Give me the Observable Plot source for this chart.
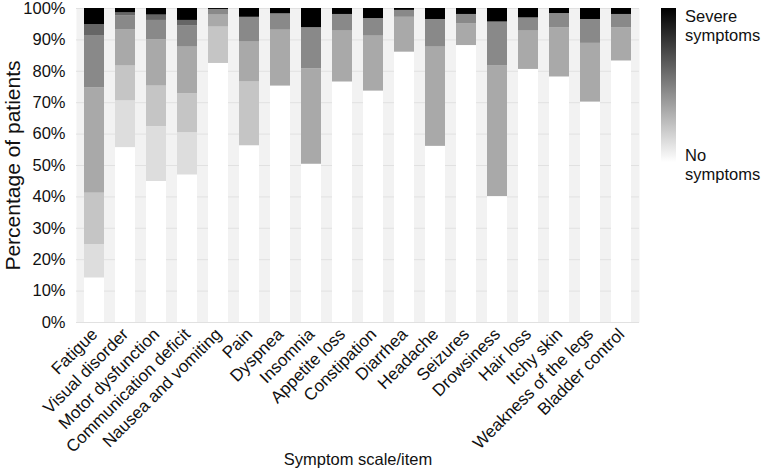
<!DOCTYPE html>
<html>
<head>
<meta charset="utf-8">
<script src="https://cdn.jsdelivr.net/npm/d3@7"></script>
<script src="https://cdn.jsdelivr.net/npm/@observablehq/plot@0.6"></script>
<style>
  html, body { margin: 0; padding: 0; background: #fff; }
  #chart { width: 761px; height: 473px; }
</style>
</head>
<body>
<div id="chart"></div>
<script>
// Categories (x)
const symptoms = [
  "Fatigue", "Visual disorder", "Motor dysfunction", "Communication deficit",
  "Nausea and vomiting", "Pain", "Dyspnea", "Insomnia", "Appetite loss",
  "Constipation", "Diarrhea", "Headache", "Seizures", "Drowsiness",
  "Hair loss", "Itchy skin", "Weakness of the legs", "Bladder control"
];

// Severity levels, from no symptoms (0) to severe symptoms (6)
const levels = ["0", "1", "2", "3", "4", "5", "6"];
const shades = ["#ffffff", "#dddddd", "#c5c5c5", "#a9a9a9", "#898989", "#666666", "#000000"];

// Percentage of patients in each severity level, per symptom
const level0 = [14.2, 55.7, 44.9, 47.0, 82.5, 56.3, 75.3, 50.4, 76.6, 73.7, 86.1, 56.1, 88.2, 40.1, 80.6, 78.2, 70.2, 83.3];
const level1 = [10.6, 14.9, 17.5, 13.5, 0, 0, 0, 0, 0, 0, 0, 0, 0, 0, 0, 0, 0, 0];
const level2 = [16.4, 11.1, 12.9, 12.4, 11.6, 20.3, 0, 0, 0, 0, 0, 0, 0, 0, 0, 0, 0, 0];
const level3 = [33.6, 11.6, 14.8, 14.8, 3.8, 12.7, 17.8, 30.4, 16.2, 17.5, 11.1, 31.6, 7.0, 41.6, 12.2, 15.7, 18.7, 10.6];
const level4 = [16.4, 4.3, 6.1, 6.7, 1.8, 7.9, 5.2, 13.1, 5.3, 5.6, 2.2, 8.8, 2.9, 14.0, 4.2, 4.5, 7.6, 4.2];
const level5 = [3.7, 1.0, 1.7, 1.8, 0, 0, 0, 0, 0, 0, 0, 0, 0, 0, 0, 0, 0, 0];
const level6 = [5.1, 1.4, 2.1, 3.8, 0.3, 2.8, 1.7, 6.1, 1.9, 3.2, 0.6, 3.5, 1.9, 4.3, 3.0, 1.6, 3.5, 1.9];

// Tick labels and texts
const yTicks = [0, 10, 20, 30, 40, 50, 60, 70, 80, 90, 100];
const xTitle = "Symptom scale/item";
const yTitle = "Percentage of patients";
const legendTop = ["Severe", "symptoms"];
const legendBottom = ["No", "symptoms"];

const series = [level0, level1, level2, level3, level4, level5, level6];
const rows = [];
symptoms.forEach((s, i) => {
  series.forEach((arr, k) => {
    if (arr[i] > 0) rows.push({symptom: s, level: levels[k], value: arr[i]});
  });
});

const font = "'Liberation Sans', Arial, Helvetica, sans-serif";
const ink = "#111111";

const plot = Plot.plot({
  width: 761,
  height: 473,
  marginLeft: 76,
  marginRight: 122,
  marginTop: 8,
  marginBottom: 151,
  style: {fontFamily: font, fontSize: "16px", color: ink, background: "#fff"},
  x: {domain: symptoms, paddingInner: 0.37, paddingOuter: 0.22, label: null},
  y: {domain: [0, 100], label: null},
  color: {type: "ordinal", domain: levels, range: shades},
  marks: [
    Plot.frame({fill: "#f2f2f2", stroke: null}),
    Plot.gridY(yTicks, {stroke: "#e1e1e1", strokeOpacity: 1, strokeWidth: 1}),
    Plot.barY(rows, Plot.stackY({order: null}, {x: "symptom", y: "value", fill: "level"})),
    Plot.axisY(yTicks, {tickFormat: d => d + "%", tickSize: 0, tickPadding: 11, fontSize: 16.5, label: null}),
    Plot.axisX({tickRotate: -45, tickSize: 0, tickPadding: 9, fontSize: 17, label: null}),
    Plot.text([xTitle], {frameAnchor: "bottom", dy: 142, fontSize: 16.5, fill: ink}),
    Plot.text([yTitle], {frameAnchor: "left", dx: -63, rotate: -90, textAnchor: "middle", fontSize: 21, fill: ink})
  ]
});

document.getElementById("chart").appendChild(plot);

// Gradient legend (severity scale)
const svg = d3.select(plot);
const defs = svg.append("defs");
const grad = defs.append("linearGradient")
  .attr("id", "sevgrad").attr("x1", 0).attr("y1", 0).attr("x2", 0).attr("y2", 1);
grad.append("stop").attr("offset", "0%").attr("stop-color", "#000");
grad.append("stop").attr("offset", "100%").attr("stop-color", "#fff");
const lg = svg.append("g");
lg.append("rect").attr("x", 661).attr("y", 8).attr("width", 15).attr("height", 154)
  .attr("fill", "url(#sevgrad)");
const lt = lg.append("g").attr("font-family", font).attr("font-size", 16.5)
  .attr("fill", ink).attr("text-anchor", "start");
legendTop.forEach((t, i) => lt.append("text").attr("x", 685).attr("y", 22 + i * 19).text(t));
legendBottom.forEach((t, i) => lt.append("text").attr("x", 685).attr("y", 161 + i * 19).text(t));
</script>
</body>
</html>
